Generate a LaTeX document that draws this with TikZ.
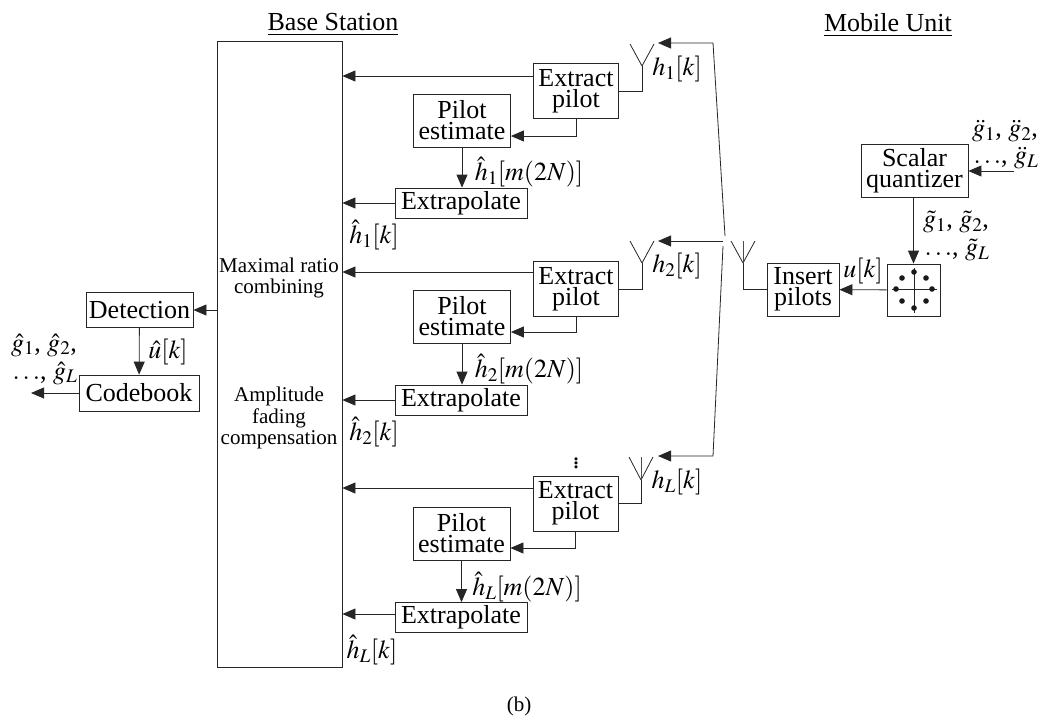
\documentclass[tikz,border=0pt]{standalone}
\usepackage{mathptmx}
\usepackage[no-math]{fontspec}
\setmainfont{Liberation Serif}
\usetikzlibrary{arrows.meta}
\begin{document}
\begin{tikzpicture}[
    x=1pt, y=-1pt,
    font=\fontsize{26}{21}\selectfont,
    box/.style={draw=black!85, line width=0.8pt, inner sep=0pt, align=center},
    extbox/.style={box, minimum width=85pt, minimum height=55pt},
    pilbox/.style={box, minimum width=97pt, minimum height=53pt},
    xtrbox/.style={box, minimum width=132pt, minimum height=30pt},
    arr/.style={-{Triangle[length=13pt,width=11pt]}, line width=0.8pt, draw=black!85},
    wire/.style={line width=0.8pt, draw=black!85},
    fine/.style={line width=0.4pt, draw=black!70},
    annot/.style={inner sep=0pt},
    small/.style={inner sep=0pt, align=center, font=\fontsize{21}{21.5}\selectfont},
]
    \useasboundingbox (0,0) rectangle (1038,720);

    % Headers
    \node[annot] (bshead) at (333,25) {\underline{Base Station}};
    \node[annot] (muhead) at (888,25) {\underline{Mobile Unit}};

    % Combiner
    \node[box, minimum width=125pt, minimum height=626pt] (comb) at (279.5,354) {};
    \node[small] (mrc) at (279,278) {Maximal ratio\\combining};
    \node[small] (afc) at (279,418) {Amplitude\\fading\\compensation};

    % Detection side
    \node[box, minimum width=107pt, minimum height=35pt] (det) at (139.5,310) {Detection};
    \node[box, minimum width=120pt, minimum height=36pt] (code) at (139,393) {Codebook};
    \coordinate (gout) at (31,393);
    \draw[arr] (comb.west |- det) -- (det);
    \draw[arr] (det) -- (code);
    \draw[arr] (code) -- (gout);
    \node[annot] (uhat) at (168,352) {$\hat{u}[k]$};
    \node[annot] (ghat) at (44,345) {$\hat{g}_1$, $\hat{g}_2$,};
    \node[annot] (ghatb) at (45,373) {$\dots$, $\hat{g}_L$};

    % First branch
    \node[extbox] (ext1) at (576,91) {Extract\\pilot};
    \node[pilbox] (pil1) at (462,120.5) {Pilot\\estimate};
    \node[xtrbox] (xtr1) at (461,203) {Extrapolate};
    \coordinate (ant1) at (642,66);
    \coordinate (tip1) at (658,43);
    \draw[wire] (ant1) -- ++(-12,-22) (ant1) -- ++(12,-22);
    \draw[wire] (ant1) |- (ext1.east);
    \draw[arr] (ext1.west |- 0,76) -- (comb.east |- 0,76);
    \draw[arr] (ext1.south) |- (pil1.east |- 0,136);
    \draw[arr] (pil1) -- (pil1 |- xtr1.north);
    \draw[arr] (xtr1) -- (comb.east |- xtr1);
    \node[annot] (h1) at (677,69) {$h_1[k]$};
    \node[annot] (hm1) at (529,172) {$\hat{h}_1[m(2N)]$};
    \node[annot] (hk1) at (374,235) {$\hat{h}_1[k]$};

    % Second branch
    \node[extbox] (ext2) at (576,289) {Extract\\pilot};
    \node[pilbox] (pil2) at (462,316.5) {Pilot\\estimate};
    \node[xtrbox] (xtr2) at (461,400) {Extrapolate};
    \coordinate (ant2) at (642,263);
    \coordinate (tip2) at (658,241);
    \draw[wire] (ant2) -- ++(-12,-22) (ant2) -- ++(12,-22);
    \draw[wire] (ant2) |- (ext2.east);
    \draw[arr] (ext2.west |- 0,272) -- (comb.east |- 0,272);
    \draw[arr] (ext2.south) |- (pil2.east |- 0,332);
    \draw[arr] (pil2) -- (pil2 |- xtr2.north);
    \draw[arr] (xtr2) -- (comb.east |- xtr2);
    \node[annot] (h2) at (677,266) {$h_2[k]$};
    \node[annot] (hm2) at (529,369) {$\hat{h}_2[m(2N)]$};
    \node[annot] (hk2) at (374,432) {$\hat{h}_2[k]$};

    % Last branch
    \node[annot] (vdots) at (576,460) {$\vdots$};
    \node[extbox] (ext3) at (575.5,503.5) {Extract\\pilot};
    \node[pilbox] (pil3) at (461.5,533.5) {Pilot\\estimate};
    \node[xtrbox] (xtr3) at (461,617.5) {Extrapolate};
    \coordinate (ant3) at (641,480);
    \coordinate (tip3) at (658,456);
    \draw[wire] (ant3) -- ++(-12,-23) (ant3) -- ++(12,-23);
    \draw[fine] (ant3) -- ++(0,-23);
    \draw[wire] (ant3) |- (ext3.east);
    \draw[arr] (ext3.west |- 0,488) -- (comb.east |- 0,488);
    \draw[arr] (ext3.south) |- (pil3.east |- 0,548);
    \draw[arr] (pil3) -- (pil3 |- xtr3.north);
    \draw[arr] (xtr3.west |- 0,614) -- (comb.east |- 0,614);
    \node[annot] (h3) at (677,482) {$h_L[k]$};
    \node[annot] (hm3) at (527,587) {$\hat{h}_L[m(2N)]$};
    \node[annot] (hk3) at (372,650) {$\hat{h}_L[k]$};

    % Channel lines
    \coordinate (chtop) at (713,43);
    \coordinate (chmid) at (725,236);
    \coordinate (chbr) at (723,241);
    \coordinate (chlow) at (723,246);
    \coordinate (chbot) at (713,456);
    \draw[arr] (chmid) -- (chtop) -- (tip1);
    \draw[arr] (chbr) -- (tip2);
    \draw[arr] (chlow) -- (chbot) -- (tip3);

    % Mobile unit
    \node[box, minimum width=72pt, minimum height=53pt] (ins) at (803,289.5) {Insert\\pilots};
    \node[box, minimum width=53pt, minimum height=52pt] (map) at (913.5,290) {};
    \node[box, minimum width=107pt, minimum height=53pt] (quant) at (914.5,170.5) {Scalar\\quantizer};
    \coordinate (ant0) at (743,263);
    \coordinate (gin) at (1014,171);
    \draw[wire] (ant0) -- ++(-12,-22) (ant0) -- ++(12,-22);
    \draw[fine] (ant0) -- ++(0,-22);
    \draw[wire] (ant0) |- (ins.west);
    \draw[arr] (map) -- (ins);
    \draw[arr] (quant.south -| map) -- (map);
    \draw[arr] (gin) -- (quant.east |- gin);
    \node[annot] (u) at (863,271) {$u[k]$};
    \node[annot] (gt) at (956,222) {$\tilde{g}_1$, $\tilde{g}_2$,};
    \node[annot] (gtb) at (957,250) {$\dots$, $\tilde{g}_L$};
    \node[annot] (gd) at (1005,131) {$\ddot{g}_1$, $\ddot{g}_2$,};
    \node[annot] (gdb) at (1006,158) {$\dots$, $\ddot{g}_L$};

    % Constellation
    \draw[wire] (892,289) -- (937,289) (914,268) -- (914,313);
    \fill[black!90] (914,272) circle (2.8) (914,308) circle (2.8) (896,289) circle (2.8) (932,289) circle (2.8)
        (902,278) circle (2.8) (926,278) circle (2.8) (902,301) circle (2.8) (926,301) circle (2.8);

    \node[small] (cap) at (519,706) {(b)};
\end{tikzpicture}
\end{document}
